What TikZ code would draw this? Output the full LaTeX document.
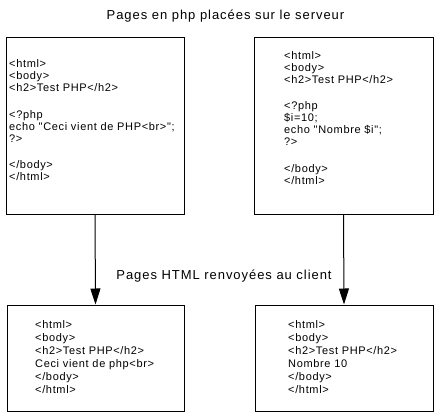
\documentclass[tikz,border=0pt]{standalone}
\usepackage{fontspec}
\setmainfont{Liberation Sans}
\newfontfamily\codefont[LetterSpace=6]{Liberation Sans}
\newfontfamily\labelfont[LetterSpace=7.3]{Liberation Sans}
\usetikzlibrary{arrows.meta}
\begin{document}
\begin{tikzpicture}[x=1pt,y=-1pt,
  box/.style={draw=black,line width=1pt,rectangle,inner sep=0pt},
  code/.style={anchor=north west,inner sep=0pt,align=left,font=\codefont\fontsize{11}{12}\selectfont},
  codeb/.style={code,font=\codefont\fontsize{11}{13}\selectfont},
  label/.style={anchor=base,inner sep=0pt,font=\labelfont\fontsize{13}{15}\selectfont},
  conn/.style={line width=1pt,-{Triangle[length=16pt,width=10pt]}}]
\useasboundingbox (0,0) rectangle (443,417);
\node[box,minimum width=178pt,minimum height=176pt] (A) at (95,126) {};
\node[box,minimum width=179pt,minimum height=176pt] (B) at (343.5,126) {};
\node[box,minimum width=177pt,minimum height=106pt] (C) at (95.5,358) {};
\node[box,minimum width=178pt,minimum height=106pt] (D) at (344,358) {};
\node[label] (t1) at (225.5,19.5) {Pages en php placées sur le serveur};
\node[label] (t2) at (224,279) {Pages HTML renvoyées au client};
\node[code] (ca) at (9,59.5) {<html>\\<body>\\<h2>Test PHP</h2>\\[14.5pt]<?php\\echo "Ceci vient de PHP<br>";\\?>\\[14.5pt]</body>\\</html>};
\node[code] (cb) at (284,51) {<html>\\<body>\\<h2>Test PHP</h2>\\[14.5pt]<?php\\\$i=10;\\echo "Nombre \$i";\\?>\\[14.5pt]</body>\\</html>};
\node[codeb] (cc) at (35,320) {<html>\\<body>\\<h2>Test PHP</h2>\\Ceci vient de php<br>\\</body>\\</html>};
\node[codeb] (cd) at (288,320) {<html>\\<body>\\<h2>Test PHP</h2>\\Nombre 10\\</body>\\</html>};
\draw[conn] (A.south) -- (C.north);
\draw[conn] (B.south) -- (D.north);
\end{tikzpicture}
\end{document}
